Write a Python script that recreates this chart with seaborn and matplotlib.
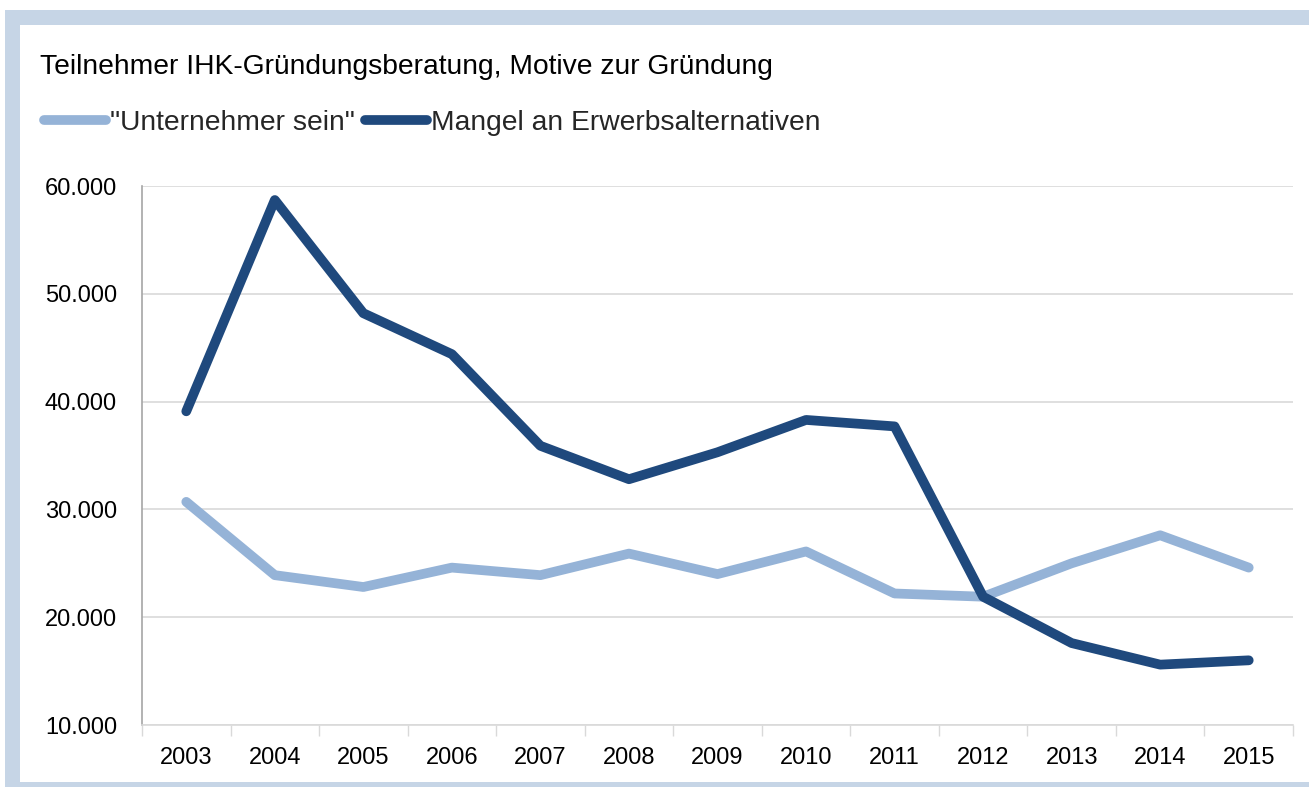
import matplotlib
matplotlib.use("Agg")
import matplotlib.pyplot as plt
import seaborn as sns
import pandas as pd
from matplotlib.patches import Rectangle
from matplotlib.lines import Line2D
from matplotlib.ticker import FuncFormatter, FixedLocator

years = [2003, 2004, 2005, 2006, 2007, 2008, 2009, 2010, 2011, 2012, 2013, 2014, 2015]
unternehmer_sein = [30700, 23900, 22800, 24600, 23900, 25900, 24000, 26100, 22200, 21900, 25000, 27600, 24600]
mangel = [39100, 58700, 48200, 44400, 35900, 32800, 35300, 38300, 37700, 21900, 17600, 15600, 16000]
series_names = ['"Unternehmer sein"', 'Mangel an Erwerbsalternativen']
title = "Teilnehmer IHK-Gründungsberatung, Motive zur Gründung"

df = pd.DataFrame({
    "Jahr": years * 2,
    "Wert": unternehmer_sein + mangel,
    "Serie": [series_names[0]] * len(years) + [series_names[1]] * len(years),
})

sns.set_theme(style="white")
plt.rcParams["font.family"] = ["Liberation Sans", "DejaVu Sans"]

W, H = 1309, 787
fig = plt.figure(figsize=(W / 100, H / 100), dpi=100)
fig.patch.set_facecolor("white")

band = "#C6D5E6"
fig.patches.append(Rectangle((5 / W, 0), 1 - 5 / W, 1 - 10 / H, transform=fig.transFigure,
                             facecolor=band, edgecolor="none", zorder=-10))
fig.patches.append(Rectangle((20 / W, 5 / H), 1 - 20 / W, 1 - 30 / H, transform=fig.transFigure,
                             facecolor="white", edgecolor="none", zorder=-9))

ax = fig.add_axes([142 / W, 62 / H, (1293 - 142) / W, (725 - 186) / H])
ax.set_facecolor("none")

palette = {series_names[0]: "#95B3D7", series_names[1]: "#1F497D"}
lw = 7
sns.lineplot(data=df, x="Jahr", y="Wert", hue="Serie", palette=palette, ax=ax,
             linewidth=lw, solid_capstyle="round", solid_joinstyle="round", legend=False)

ax.set_xlim(years[0] - 0.5, years[-1] + 0.5)
ax.set_ylim(10000, 60000)
ax.set_yticks([10000, 20000, 30000, 40000, 50000, 60000])
ax.yaxis.set_major_formatter(FuncFormatter(lambda v, p: f"{v:,.0f}".replace(",", ".")))
ax.set_xticks(years)
ax.set_xticklabels([str(y) for y in years])
ax.xaxis.set_minor_locator(FixedLocator([y - 0.5 for y in years] + [years[-1] + 0.5]))
ax.tick_params(axis="x", which="major", length=0, pad=16, labelsize=17, colors="black")
ax.tick_params(axis="x", which="minor", length=8, width=1, color="#D9D9D9", bottom=True)
ax.tick_params(axis="y", length=0, pad=18, labelsize=17, colors="black")
ax.set_xlabel("")
ax.set_ylabel("")

ax.grid(axis="y", color="#D9D9D9", linewidth=1.2)
ax.grid(axis="x", visible=False)
ax.set_axisbelow(True)
for s in ["top", "right"]:
    ax.spines[s].set_visible(False)
ax.spines["left"].set_color("#A6A6A6")
ax.spines["left"].set_linewidth(1.2)
ax.spines["bottom"].set_color("#D9D9D9")
ax.spines["bottom"].set_linewidth(1.2)

fig.text(40 / W, 1 - 74 / H, title, fontsize=20.3, va="baseline", ha="left", color="black")

handles = [Line2D([0], [0], color=palette[n], linewidth=lw, solid_capstyle="round") for n in series_names]
fig.legend(handles, series_names, loc="center left", bbox_to_anchor=(44 / W, 1 - 123 / H),
           bbox_transform=fig.transFigure, ncol=2, frameon=False, fontsize=20.3,
           handlelength=2.2, handletextpad=0.15, columnspacing=0.35, borderaxespad=0, borderpad=0)

fig.savefig("out.png", dpi=100)
